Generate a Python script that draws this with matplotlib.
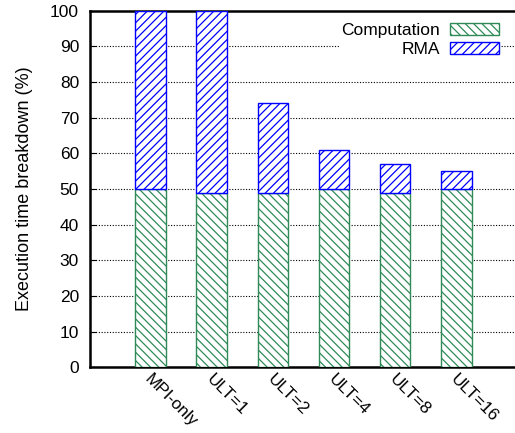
import numpy as np
import matplotlib
matplotlib.use("Agg")
import matplotlib.pyplot as plt

plt.rcParams['font.family'] = ['Liberation Sans', 'DejaVu Sans']
plt.rcParams['hatch.linewidth'] = 0.9

configs = ["MPI-only", "ULT=1", "ULT=2", "ULT=4", "ULT=8", "ULT=16"]
computation = [50, 49, 49, 50, 49, 50]
rma = [50, 51, 25, 11, 8, 5]

green = "#2e8b57"
blue = "#0000ff"

fig = plt.figure(figsize=(5.15, 4.33), dpi=100)
ax = fig.add_axes([0.175, 0.152, 0.825, 0.823])

x = np.arange(len(configs))
ax.bar(x, computation, width=0.5, color="white", edgecolor=green, hatch="\\\\\\\\",
       linewidth=1.0, label="Computation", zorder=3)
ax.bar(x, rma, width=0.5, bottom=computation, color="white", edgecolor=blue,
       hatch="////", linewidth=1.0, label="RMA", zorder=3)

ax.set_xlim(-0.99, 5.96)
ax.set_ylim(0, 100)
ax.set_yticks(range(0, 101, 10))
ax.tick_params(axis="y", direction="in", length=4, labelsize=12.5, pad=8)
ax.tick_params(axis="x", length=0, pad=3)
ax.set_xticks(x + 0.03)
ax.set_xticklabels(configs, rotation=-45, ha="left", va="top",
                   rotation_mode="anchor", fontsize=12.3)
ax.set_ylabel("Execution time breakdown (%)", fontsize=13, labelpad=12)

ax.yaxis.grid(True, linestyle=(0, (1, 1.5)), color="black", linewidth=0.8, zorder=0)
ax.set_axisbelow(True)
for side in ["left", "top", "bottom"]:
    ax.spines[side].set_linewidth(1.8)
ax.spines["right"].set_visible(False)

leg = ax.legend(loc="upper right", bbox_to_anchor=(0.985, 0.994), frameon=True,
                fancybox=False, edgecolor="none", framealpha=1.0,
                markerfirst=False, fontsize=12.5, handlelength=2.8,
                handleheight=0.7, labelspacing=0.25, borderpad=0.05,
                handletextpad=0.6)
for t in leg.get_texts():
    t.set_ha("right")
leg.set_zorder(5)

fig.savefig("out.png", dpi=100)
